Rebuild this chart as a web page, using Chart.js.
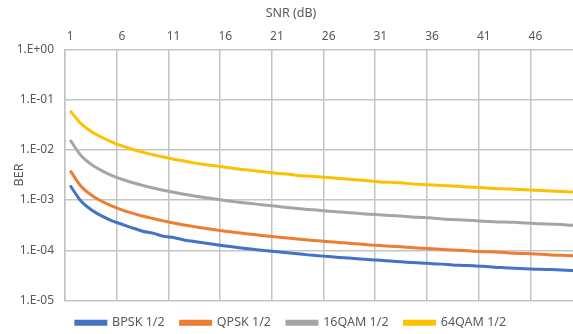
<!DOCTYPE html>
<html>
<head>
<meta charset="utf-8">
<script src="https://cdn.jsdelivr.net/npm/chart.js@4/dist/chart.umd.min.js"></script>
<style>
  html, body { margin: 0; padding: 0; background: #fff; overflow: hidden; }
  #clip { width: 573px; height: 334px; overflow: hidden; }
  #box { width: 600px; height: 339px; position: relative; }
</style>
</head>
<body>
<div id="clip"><div id="box"><canvas id="myChart"></canvas></div></div>
<script>
'use strict';

// SNR in dB, 1 .. 50
let snrLabels = [];
for (let i = 1; i <= 50; i++) {
  snrLabels.push(String(i));
}

let bpsk = [1.95e-3, 9.8e-4, 6.5e-4, 4.9e-4, 3.9e-4, 3.3e-4, 2.8e-4, 2.4e-4, 2.2e-4, 1.9e-4,
  1.8e-4, 1.6e-4, 1.5e-4, 1.4e-4, 1.3e-4, 1.22e-4, 1.15e-4, 1.08e-4, 1.03e-4, 9.8e-5,
  9.3e-5, 8.9e-5, 8.5e-5, 8.1e-5, 7.8e-5, 7.5e-5, 7.2e-5, 7.0e-5, 6.7e-5, 6.5e-5,
  6.3e-5, 6.1e-5, 5.9e-5, 5.7e-5, 5.6e-5, 5.4e-5, 5.3e-5, 5.1e-5, 5.0e-5, 4.9e-5,
  4.8e-5, 4.6e-5, 4.5e-5, 4.4e-5, 4.3e-5, 4.2e-5, 4.15e-5, 4.1e-5, 4.0e-5, 3.9e-5];

let qpsk = [3.85e-3, 1.93e-3, 1.28e-3, 9.6e-4, 7.7e-4, 6.4e-4, 5.5e-4, 4.8e-4, 4.3e-4, 3.85e-4,
  3.5e-4, 3.2e-4, 2.96e-4, 2.75e-4, 2.57e-4, 2.4e-4, 2.26e-4, 2.14e-4, 2.03e-4, 1.93e-4,
  1.83e-4, 1.75e-4, 1.67e-4, 1.6e-4, 1.54e-4, 1.48e-4, 1.43e-4, 1.38e-4, 1.33e-4, 1.28e-4,
  1.24e-4, 1.2e-4, 1.17e-4, 1.13e-4, 1.1e-4, 1.07e-4, 1.04e-4, 1.01e-4, 9.9e-5, 9.6e-5,
  9.4e-5, 9.2e-5, 9.0e-5, 8.75e-5, 8.6e-5, 8.4e-5, 8.2e-5, 8.0e-5, 7.9e-5, 7.7e-5];

let qam16 = [1.57e-2, 7.9e-3, 5.2e-3, 3.9e-3, 3.1e-3, 2.6e-3, 2.24e-3, 1.96e-3, 1.74e-3, 1.57e-3,
  1.43e-3, 1.31e-3, 1.21e-3, 1.12e-3, 1.05e-3, 9.8e-4, 9.2e-4, 8.7e-4, 8.3e-4, 7.9e-4,
  7.5e-4, 7.1e-4, 6.8e-4, 6.5e-4, 6.3e-4, 6.0e-4, 5.8e-4, 5.6e-4, 5.4e-4, 5.2e-4,
  5.1e-4, 4.9e-4, 4.8e-4, 4.6e-4, 4.5e-4, 4.4e-4, 4.2e-4, 4.1e-4, 4.0e-4, 3.9e-4,
  3.8e-4, 3.7e-4, 3.65e-4, 3.6e-4, 3.5e-4, 3.4e-4, 3.35e-4, 3.3e-4, 3.2e-4, 3.15e-4];

let qam64 = [6.0e-2, 3.4e-2, 2.35e-2, 1.8e-2, 1.44e-2, 1.2e-2, 1.03e-2, 9.0e-3, 8.0e-3, 7.2e-3,
  6.5e-3, 6.0e-3, 5.5e-3, 5.1e-3, 4.8e-3, 4.5e-3, 4.2e-3, 4.0e-3, 3.8e-3, 3.6e-3,
  3.4e-3, 3.3e-3, 3.1e-3, 3.0e-3, 2.9e-3, 2.8e-3, 2.7e-3, 2.6e-3, 2.5e-3, 2.4e-3,
  2.3e-3, 2.25e-3, 2.2e-3, 2.1e-3, 2.05e-3, 2.0e-3, 1.95e-3, 1.9e-3, 1.85e-3, 1.8e-3,
  1.75e-3, 1.7e-3, 1.67e-3, 1.64e-3, 1.6e-3, 1.57e-3, 1.53e-3, 1.5e-3, 1.47e-3, 1.44e-3];

let seriesNames = ['BPSK 1/2', 'QPSK 1/2', '16QAM 1/2', '64QAM 1/2'];
let seriesColors = ['#4472C4', '#ED7D31', '#A5A5A5', '#FFC000'];
let yTickValues = [1e-5, 1e-4, 1e-3, 1e-2, 1e-1, 1];

let textColor = '#595959';
let gridColor = '#c4c4c4';
let fontFamily = '"Noto Sans", sans-serif';

function sciLabel(v) {
  let e = Math.round(Math.log10(v));
  let s = Math.abs(e) < 10 ? '0' + Math.abs(e) : String(Math.abs(e));
  return '1.E' + (e < 0 ? '-' : '+') + s;
}

let allSeries = [bpsk, qpsk, qam16, qam64];
let datasets = [];
for (let i = 0; i < allSeries.length; i++) {
  datasets.push({
    label: seriesNames[i],
    data: allSeries[i],
    borderColor: seriesColors[i],
    backgroundColor: seriesColors[i],
    borderWidth: 3,
    pointRadius: 0,
    tension: 0.2,
    fill: false
  });
}

let ctx = document.getElementById('myChart').getContext('2d');
let chart = new Chart(ctx, {
  type: 'line',
  data: {
    labels: snrLabels,
    datasets: datasets
  },
  options: {
    responsive: true,
    maintainAspectRatio: false,
    animation: false,
    layout: { padding: { left: 0, right: 18, top: 0, bottom: 0 } },
    plugins: {
      tooltip: { enabled: false },
      title: {
        display: true,
        text: 'SNR (dB)',
        color: textColor,
        font: { family: fontFamily, size: 12.5, weight: 'normal' },
        padding: { top: 6, bottom: 2 }
      },
      legend: {
        position: 'bottom',
        labels: {
          boxWidth: 30,
          boxHeight: 3,
          padding: 16,
          color: textColor,
          font: { family: fontFamily, size: 12.5 }
        }
      }
    },
    scales: {
      x: {
        position: 'top',
        offset: true,
        grid: {
          offset: true,
          drawTicks: false,
          lineWidth: 1.5,
          color: function(c) { return c.index % 5 === 0 ? gridColor : 'rgba(0,0,0,0)'; }
        },
        border: { display: false },
        ticks: {
          autoSkip: false,
          maxRotation: 0,
          minRotation: 0,
          padding: 6,
          color: textColor,
          font: { family: fontFamily, size: 12 },
          callback: function(value, index) {
            return index % 5 === 0 ? this.getLabelForValue(value) : '';
          }
        }
      },
      y: {
        type: 'logarithmic',
        min: 1e-5,
        max: 1,
        afterBuildTicks: function(scale) {
          scale.ticks = yTickValues.map(function(v) { return { value: v }; });
        },
        afterFit: function(scale) { scale.width = 65; },
        grid: { color: gridColor, lineWidth: 1.5, drawTicks: false },
        border: { color: gridColor, width: 1.5 },
        title: {
          display: true,
          text: 'BER',
          color: textColor,
          font: { family: fontFamily, size: 12.5 },
          padding: { top: 12, bottom: 0 }
        },
        ticks: {
          padding: 11,
          color: textColor,
          font: { family: fontFamily, size: 12 },
          callback: function(v) { return sciLabel(v); }
        }
      }
    }
  }
});

chart.draw();
</script>
</body>
</html>
